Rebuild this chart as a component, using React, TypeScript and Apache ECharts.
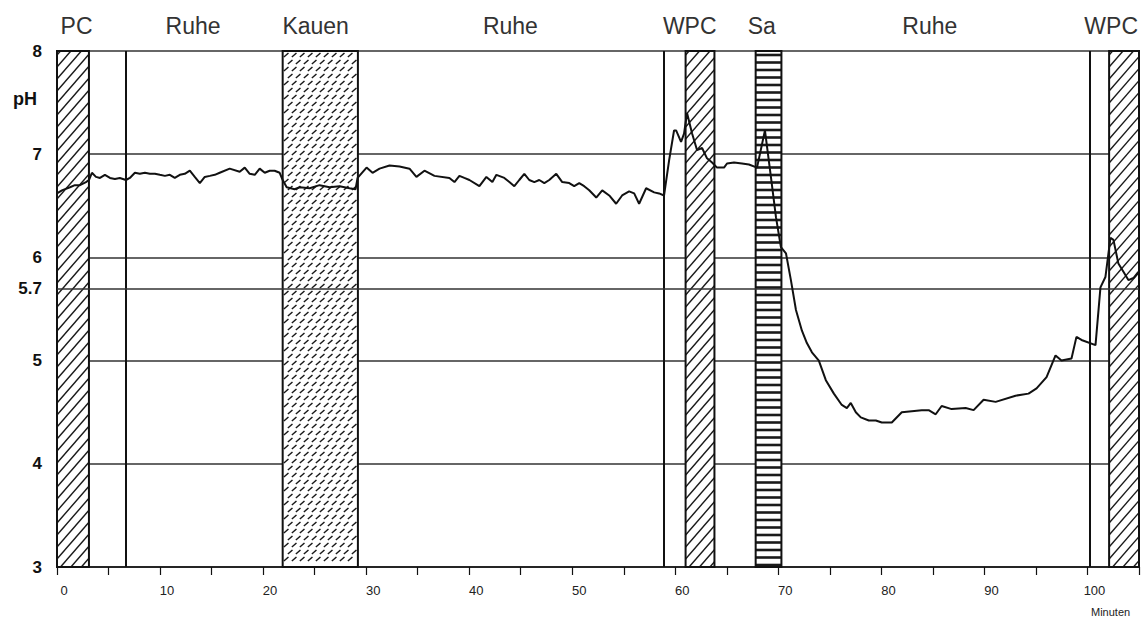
import React, { useEffect, useRef } from "react";
import * as echarts from "echarts";

// pH trace (minutes, pH)
const minutes = [
  0, 0.48, 1.26, 1.74, 2.23, 2.81, 3.1, 3.39, 3.78, 4.17, 4.65, 5.14, 5.62, 6.1, 6.69, 7.07, 7.56, 8.04, 8.53, 9.01,
  9.5, 9.98, 10.47, 10.95, 11.43, 11.92, 12.4, 12.89, 13.37, 13.86, 14.34, 14.83, 15.31, 15.79, 16.76, 17.73, 18.22,
  18.7, 19.19, 19.67, 20.16, 20.64, 21.12, 21.61, 21.9, 22.29, 23.06, 23.55, 24.52, 25.48, 26.45, 27.42, 28.39, 28.97,
  29.17, 30.04, 30.62, 31.3, 32.27, 33.24, 34.21, 34.88, 35.66, 36.63, 38.08, 38.57, 39.05, 39.53, 40.02, 40.99, 41.67,
  42.25, 42.64, 43.41, 43.9, 44.38, 44.86, 45.35, 45.83, 46.32, 46.8, 47.29, 47.77, 48.45, 49.03, 49.71, 50.19, 50.68,
  51.16, 51.65, 52.33, 52.91, 53.59, 54.26, 54.84, 55.52, 56.01, 56.49, 57.17, 57.95, 58.43, 58.91, 59.4, 59.88, 60.08,
  60.56, 60.85, 61.14, 61.63, 62.11, 62.6, 63.08, 63.57, 64.05, 64.73, 65.02, 65.7, 66.47, 67.15, 67.93, 68.7, 69.28,
  69.77, 70.25, 70.74, 71.22, 71.71, 72.29, 72.77, 73.26, 73.93, 74.61, 75.39, 76.16, 76.65, 77.03, 77.52, 78.0, 78.78,
  79.46, 80.04, 81.01, 81.98, 82.95, 83.91, 84.59, 85.27, 85.85, 86.82, 88.18, 88.95, 89.92, 91.09, 93.02, 94.28, 95.06,
  96.03, 96.9, 97.48, 98.45, 98.93, 99.42, 100.78, 101.26, 101.74, 102.23, 102.52, 103.0, 103.49, 103.97, 104.46, 104.94,
];
const phValues = [
  6.62, 6.65, 6.68, 6.7, 6.7, 6.73, 6.75, 6.82, 6.78, 6.77, 6.8, 6.77, 6.76, 6.77, 6.75, 6.77, 6.82, 6.81, 6.82, 6.81,
  6.81, 6.8, 6.79, 6.8, 6.77, 6.8, 6.81, 6.84, 6.78, 6.72, 6.78, 6.79, 6.8, 6.82, 6.86, 6.83, 6.87,
  6.81, 6.8, 6.86, 6.82, 6.84, 6.84, 6.82, 6.75, 6.68, 6.66, 6.68, 6.67, 6.7, 6.68, 6.69, 6.67, 6.66,
  6.77, 6.87, 6.82, 6.86, 6.89, 6.88, 6.86, 6.78, 6.84, 6.79, 6.77, 6.73, 6.79, 6.77, 6.75, 6.69, 6.78,
  6.73, 6.8, 6.77, 6.73, 6.69, 6.75, 6.81, 6.75, 6.73, 6.75, 6.72, 6.75, 6.81, 6.73, 6.72, 6.69, 6.72,
  6.69, 6.65, 6.58, 6.65, 6.6, 6.52, 6.6, 6.64, 6.62, 6.52, 6.67, 6.63, 6.62, 6.6, 6.94, 7.23, 7.23,
  7.12, 7.2, 7.4, 7.2, 7.04, 7.06, 6.96, 6.92, 6.87, 6.87, 6.91, 6.92, 6.91, 6.9, 6.87, 7.23, 6.78,
  6.39, 6.1, 6.04, 5.78, 5.49, 5.29, 5.17, 5.08, 5.0, 4.81, 4.68, 4.57, 4.54, 4.59, 4.5, 4.45, 4.42,
  4.42, 4.4, 4.4, 4.5, 4.51, 4.52, 4.52, 4.48, 4.56, 4.53, 4.54, 4.52, 4.62, 4.6, 4.66, 4.68, 4.73,
  4.84, 5.05, 5.0, 5.02, 5.23, 5.2, 5.15, 5.71, 5.81, 6.19, 6.17, 5.94, 5.86, 5.78, 5.8, 5.86,
];

// phase labels above the plot
const phaseLabels = ["PC", "Ruhe", "Kauen", "Ruhe", "WPC", "Sa", "Ruhe", "WPC"];
const phaseCenters = [1.9, 13.2, 25.1, 44.0, 61.4, 68.4, 84.7, 102.3];

// shaded phases
const zoneStarts = [0, 21.9, 61.0, 67.8, 102.1];
const zoneEnds = [3.1, 29.2, 63.8, 70.3, 105];
const zonePatterns = [0, 1, 0, 2, 0]; // 0 = diagonal hatch, 1 = dash texture, 2 = horizontal stripes

// vertical phase separators and extra level
const separatorMinutes = [6.7, 58.9, 100.2];
const extraLevels = [5.7];

const X_MIN = 0;
const X_MAX = 105;
const X_STEP = 5;
const Y_MIN = 3;
const Y_MAX = 8;
const Y_STEP = 1;

const FONT = '"Liberation Sans", Arial, Helvetica, sans-serif';

export default function App() {
  const ref = useRef<HTMLDivElement>(null);

  useEffect(() => {
    if (!ref.current) return;
    const chart = echarts.init(ref.current, undefined, { renderer: "svg" });
    const ink = "#1a1a1a";

    const zoneData = zoneStarts.map((s, i) => [s, zoneEnds[i], zonePatterns[i]]);
    const labelData = phaseCenters.map((c, i) => [c, i]);
    const lineData = minutes.map((m, i) => [m, phValues[i]]);

    const option: any = {
      animation: false,
      backgroundColor: "#fff",
      textStyle: { fontFamily: FONT },
      grid: { left: 57, right: 1, top: 51, bottom: 52, containLabel: false },
      xAxis: {
        type: "value",
        min: X_MIN,
        max: X_MAX,
        interval: X_STEP,
        axisLine: { show: true, lineStyle: { color: "#111", width: 1.5 } },
        axisTick: { show: true, length: 8, lineStyle: { color: "#111", width: 1.2 } },
        axisLabel: {
          formatter: (v: number) => (v % 10 === 0 ? String(v) : ""),
          fontSize: 13,
          color: "#222",
          margin: 17,
          padding: [0, 0, 0, 14],
          fontFamily: FONT,
        },
        splitLine: { show: false },
      },
      yAxis: {
        type: "value",
        min: Y_MIN,
        max: Y_MAX,
        interval: Y_STEP,
        axisLine: { show: false },
        axisTick: { show: false },
        axisLabel: { fontSize: 17, fontWeight: "bold", color: "#111", margin: 15, fontFamily: FONT },
        splitLine: { show: true, lineStyle: { color: "#333", width: 1.5 } },
      },
      graphic: [
        {
          type: "text",
          left: 13,
          top: 90,
          style: { text: "pH", font: `bold 18px ${FONT}`, fill: "#111" },
        },
        {
          type: "text",
          left: 1091,
          top: 606,
          style: { text: "Minuten", font: `11px ${FONT}`, fill: "#222" },
        },
      ],
      series: [
        {
          type: "line",
          data: [],
          z: 1,
          silent: true,
          markLine: {
            silent: true,
            symbol: ["none", "none"],
            animation: false,
            label: { show: false },
            data: [
              ...separatorMinutes.map((m) => ({ xAxis: m, lineStyle: { color: "#111", width: 2, type: "solid" } })),
              ...extraLevels.map((v) => ({
                yAxis: v,
                lineStyle: { color: "#333", width: 1.5, type: "solid" },
                label: {
                  show: true,
                  position: "start",
                  formatter: String(v),
                  distance: 15,
                  fontSize: 17,
                  fontWeight: "bold",
                  color: "#111",
                  fontFamily: FONT,
                },
              })),
            ],
          },
        },
        {
          type: "custom",
          z: 2,
          silent: true,
          clip: false,
          encode: { x: [0, 1] },
          data: zoneData,
          renderItem: (_params: any, api: any) => {
            const s = api.value(0);
            const e = api.value(1);
            const kind = api.value(2);
            const a = api.coord([s, Y_MAX]);
            const b = api.coord([e, Y_MIN]);
            const x0 = a[0], y0 = a[1], x1 = b[0], y1 = b[1];
            const children: any[] = [
              { type: "rect", shape: { x: x0, y: y0, width: x1 - x0, height: y1 - y0 }, style: { fill: "#fff" } },
            ];
            if (kind === 0) {
              const slope = 1.15;
              const gap = 12;
              for (let c = y0 + slope * x0 + 4; c <= y1 + slope * x1; c += gap) {
                const xa = Math.max(x0, (c - y1) / slope);
                const xb = Math.min(x1, (c - y0) / slope);
                if (xb - xa > 0.5) {
                  children.push({
                    type: "line",
                    shape: { x1: xa, y1: c - slope * xa, x2: xb, y2: c - slope * xb },
                    style: { stroke: ink, lineWidth: 1.4 },
                  });
                }
              }
            } else if (kind === 1) {
              const gx = 8;
              const gy = 7;
              let row = 0;
              for (let cy = y0 + 4; cy < y1 - 2; cy += gy, row++) {
                const off = (row % 2) * (gx / 2);
                for (let cx = x0 + 3.5 + off; cx < x1 - 3; cx += gx) {
                  children.push({
                    type: "line",
                    shape: { x1: cx - 2.3, y1: cy + 2, x2: cx + 2.3, y2: cy - 2 },
                    style: { stroke: ink, lineWidth: 1.5 },
                  });
                }
              }
            } else {
              for (let yy = y0 + 4; yy < y1 - 1; yy += 7.5) {
                children.push({
                  type: "line",
                  shape: { x1: x0, y1: yy, x2: x1, y2: yy },
                  style: { stroke: ink, lineWidth: 2.6 },
                });
              }
            }
            children.push({
              type: "rect",
              shape: { x: x0, y: y0, width: x1 - x0, height: y1 - y0 },
              style: { fill: "none", stroke: "#111", lineWidth: 2 },
            });
            return { type: "group", children };
          },
        },
        {
          type: "custom",
          z: 3,
          silent: true,
          clip: false,
          encode: { x: 0 },
          data: labelData,
          renderItem: (_params: any, api: any) => {
            const p = api.coord([api.value(0), Y_MAX]);
            return {
              type: "text",
              x: p[0],
              y: p[1] - 25,
              style: {
                text: phaseLabels[api.value(1)],
                fill: "#333",
                font: `23px ${FONT}`,
                align: "center",
                verticalAlign: "middle",
                textAlign: "center",
                textVerticalAlign: "middle",
              },
            };
          },
        },
        {
          type: "line",
          z: 5,
          data: lineData,
          showSymbol: false,
          symbol: "none",
          silent: true,
          lineStyle: { color: "#111", width: 2 },
        },
      ],
    };

    chart.setOption(option);
    return () => chart.dispose();
  }, []);

  return (
    <div
      ref={ref}
      style={{ position: "fixed", left: 0, top: 0, width: 1142, height: 619, background: "#fff" }}
    />
  );
}
